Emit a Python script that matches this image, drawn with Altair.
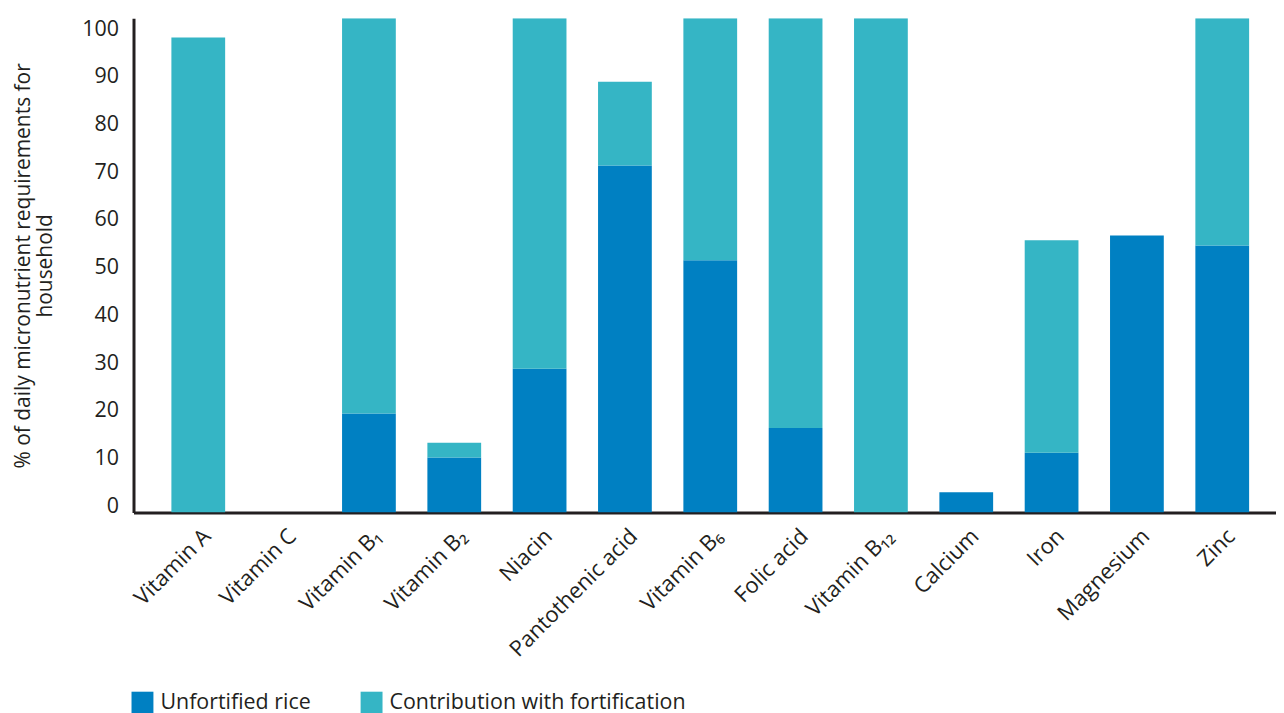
import altair as alt
import pandas as pd

categories = ["Vitamin A", "Vitamin C", "Vitamin B₁", "Vitamin B₂", "Niacin",
              "Pantothenic acid", "Vitamin B₆", "Folic acid", "Vitamin B₁₂",
              "Calcium", "Iron", "Magnesium", "Zinc"]
unfortified = [0, 0, 20.7, 11.5, 30.1, 72.7, 52.8, 17.7, 0, 4.2, 12.5, 58.0, 55.9]
fortification = [99.5, 0, 82.8, 3.1, 73.4, 17.5, 50.7, 85.8, 103.5, 0, 44.5, 0, 47.6]
series = ["Unfortified rice", "Contribution with fortification"]
colors = ["#0080c2", "#35b5c5"]
y_ticks = [0, 10, 20, 30, 40, 50, 60, 70, 80, 90, 100]

rows = []
for i, c in enumerate(categories):
    rows.append({"cat": c, "series": series[0], "value": unfortified[i], "ord": 0})
    rows.append({"cat": c, "series": series[1], "value": fortification[i], "ord": 1})
df = pd.DataFrame(rows)

FONT = "Open Sans"
TXT = "#231f20"

chart = alt.Chart(df).mark_bar(clip=True).encode(
    x=alt.X("cat:N", sort=categories,
            scale=alt.Scale(paddingInner=0.37, paddingOuter=0.3795, align=0.585),
            axis=alt.Axis(title=None, labelAngle=-45, labelAlign="right",
                          labelBaseline="middle", labelPadding=20, labelOffset=9,
                          ticks=False, domainColor=TXT, domainWidth=3, labelLimit=0,
                          labelFont=FONT, labelFontSize=22, labelColor=TXT)),
    y=alt.Y("value:Q", stack="zero",
            scale=alt.Scale(domain=[0, 103.5], nice=False, zero=True),
            axis=alt.Axis(title=["% of daily micronutrient requirements for", "household"],
                          values=y_ticks, grid=False, ticks=False,
                          domainColor=TXT, domainWidth=3,
                          labelFont=FONT, labelFontSize=21.5, labelColor=TXT,
                          labelPadding=15, labelOffset=-6,
                          titleFont=FONT, titleFontSize=21, titleFontWeight="normal",
                          titleColor=TXT, titlePadding=26, titleLineHeight=23)),
    color=alt.Color("series:N", sort=series,
                    scale=alt.Scale(domain=series, range=colors),
                    legend=alt.Legend(title=None, orient="none", legendX=-2, legendY=676,
                                      direction="horizontal", symbolType="square",
                                      symbolSize=484, symbolStrokeWidth=0, labelLimit=0,
                                      labelFont=FONT, labelFontSize=21.5, labelColor=TXT,
                                      columnPadding=50, labelOffset=7)),
    order=alt.Order("ord:Q"),
).properties(
    width=1147, height=496,
    padding={"left": 4, "top": 8, "right": 0, "bottom": 0},
).configure_view(stroke=None)

chart.save("out.html", embed_options={"renderer": "svg", "actions": False})
